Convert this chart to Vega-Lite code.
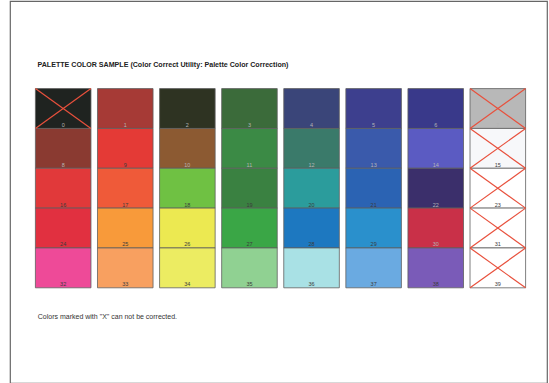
{
  "$schema": "https://vega.github.io/schema/vega-lite/v6.json",
  "width": 537,
  "height": 382,
  "autosize": "none",
  "padding": {"left": 10, "top": 1, "right": 2, "bottom": 0},
  "background": "white",
  "title": {"text": "PALETTE COLOR SAMPLE (Color Correct Utility: Palette Color Correction)"},
  "data": {"values": [
    {"idx": 0, "col": 0, "row": 0, "color": "#1f2320", "crossed": true},
    {"idx": 1, "col": 1, "row": 0, "color": "#a63a36", "crossed": false},
    {"idx": 2, "col": 2, "row": 0, "color": "#2e3322", "crossed": false},
    {"idx": 3, "col": 3, "row": 0, "color": "#3b6b3a", "crossed": false},
    {"idx": 4, "col": 4, "row": 0, "color": "#3a4579", "crossed": false},
    {"idx": 5, "col": 5, "row": 0, "color": "#3d3f8e", "crossed": false},
    {"idx": 6, "col": 6, "row": 0, "color": "#39398a", "crossed": false},
    {"idx": 7, "col": 7, "row": 0, "color": "#b8b8b8", "crossed": true},
    {"idx": 8, "col": 0, "row": 1, "color": "#8a3a31", "crossed": false},
    {"idx": 9, "col": 1, "row": 1, "color": "#e43a36", "crossed": false},
    {"idx": 10, "col": 2, "row": 1, "color": "#8c5a32", "crossed": false},
    {"idx": 11, "col": 3, "row": 1, "color": "#3b8a45", "crossed": false},
    {"idx": 12, "col": 4, "row": 1, "color": "#3a7a6a", "crossed": false},
    {"idx": 13, "col": 5, "row": 1, "color": "#3a5aab", "crossed": false},
    {"idx": 14, "col": 6, "row": 1, "color": "#5b5bc2", "crossed": false},
    {"idx": 15, "col": 7, "row": 1, "color": "#f7f8fa", "crossed": true},
    {"idx": 16, "col": 0, "row": 2, "color": "#e1393a", "crossed": false},
    {"idx": 17, "col": 1, "row": 2, "color": "#ef5a39", "crossed": false},
    {"idx": 18, "col": 2, "row": 2, "color": "#6fc143", "crossed": false},
    {"idx": 19, "col": 3, "row": 2, "color": "#3a8141", "crossed": false},
    {"idx": 20, "col": 4, "row": 2, "color": "#2b9c9c", "crossed": false},
    {"idx": 21, "col": 5, "row": 2, "color": "#2b63b3", "crossed": false},
    {"idx": 22, "col": 6, "row": 2, "color": "#3b2f6b", "crossed": false},
    {"idx": 23, "col": 7, "row": 2, "color": "#ffffff", "crossed": true},
    {"idx": 24, "col": 0, "row": 3, "color": "#e13040", "crossed": false},
    {"idx": 25, "col": 1, "row": 3, "color": "#f89a3a", "crossed": false},
    {"idx": 26, "col": 2, "row": 3, "color": "#ece951", "crossed": false},
    {"idx": 27, "col": 3, "row": 3, "color": "#3aa646", "crossed": false},
    {"idx": 28, "col": 4, "row": 3, "color": "#1d78c0", "crossed": false},
    {"idx": 29, "col": 5, "row": 3, "color": "#2a90cc", "crossed": false},
    {"idx": 30, "col": 6, "row": 3, "color": "#c93048", "crossed": false},
    {"idx": 31, "col": 7, "row": 3, "color": "#ffffff", "crossed": true},
    {"idx": 32, "col": 0, "row": 4, "color": "#ee4a98", "crossed": false},
    {"idx": 33, "col": 1, "row": 4, "color": "#f8a060", "crossed": false},
    {"idx": 34, "col": 2, "row": 4, "color": "#ecec62", "crossed": false},
    {"idx": 35, "col": 3, "row": 4, "color": "#90d192", "crossed": false},
    {"idx": 36, "col": 4, "row": 4, "color": "#a9e1e5", "crossed": false},
    {"idx": 37, "col": 5, "row": 4, "color": "#6aaae1", "crossed": false},
    {"idx": 38, "col": 6, "row": 4, "color": "#7a5bb8", "crossed": false},
    {"idx": 39, "col": 7, "row": 4, "color": "#ffffff", "crossed": true}
  ]},
  "layer": [
    {
      "mark": {"type": "rect", "stroke": "#5f5f5f", "strokeWidth": 0.8},
      "encoding": {
        "x": {"field": "col", "type": "ordinal", "title": "Colors marked with \"X\" can not be corrected.", "scale": {"range": [25.4, 515.6], "paddingInner": 0.105, "paddingOuter": 0}},
        "y": {"field": "row", "type": "ordinal", "axis": null, "scale": {"range": [87.6, 286.8], "paddingInner": 0, "paddingOuter": 0}},
        "fill": {"field": "color", "type": "nominal", "scale": null}
      }
    },
    {
      "transform": [{"filter": "datum.crossed"}],
      "mark": {"type": "rule", "stroke": "#e8503c", "strokeWidth": 1.2},
      "encoding": {
        "x": {"field": "col", "type": "ordinal", "bandPosition": 0, "title": "Colors marked with \"X\" can not be corrected."},
        "x2": {"field": "col", "bandPosition": 1},
        "y": {"field": "row", "type": "ordinal", "bandPosition": 0, "axis": null},
        "y2": {"field": "row", "bandPosition": 1}
      }
    },
    {
      "transform": [{"filter": "datum.crossed"}],
      "mark": {"type": "rule", "stroke": "#e8503c", "strokeWidth": 1.2},
      "encoding": {
        "x": {"field": "col", "type": "ordinal", "bandPosition": 0, "title": "Colors marked with \"X\" can not be corrected."},
        "x2": {"field": "col", "bandPosition": 1},
        "y": {"field": "row", "type": "ordinal", "bandPosition": 1, "axis": null},
        "y2": {"field": "row", "bandPosition": 0}
      }
    },
    {
      "mark": {"type": "text", "fontSize": 5.5, "font": "Liberation Sans", "baseline": "alphabetic", "dy": -1.5},
      "encoding": {
        "x": {"field": "col", "type": "ordinal", "bandPosition": 0.5, "title": "Colors marked with \"X\" can not be corrected."},
        "y": {"field": "row", "type": "ordinal", "bandPosition": 1, "axis": null},
        "text": {"field": "idx", "type": "quantitative"},
        "color": {
          "condition": {"test": "indexof([0,1,2,3,4,5,6,7,8,10,11,12,13,14,22,30], datum.idx) >= 0", "value": "#b4b4b4"},
          "value": "#3c3c3c"
        }
      }
    }
  ],
  "config": {
    "view": {"stroke": "#666666", "strokeWidth": 1.2},
    "title": {"anchor": "start", "frame": "group", "offset": -67, "dx": 27.5, "fontSize": 7.1, "fontWeight": "bold", "font": "Liberation Sans", "color": "#222222"},
    "axisX": {"labels": false, "ticks": false, "domain": false, "grid": false, "titleX": 27.3, "titleY": -64.5, "titleAlign": "left", "titleAnchor": null, "titleBaseline": "alphabetic", "titleFont": "Liberation Sans", "titleFontSize": 7, "titleFontWeight": "normal", "titleColor": "#333333"}
  }
}
